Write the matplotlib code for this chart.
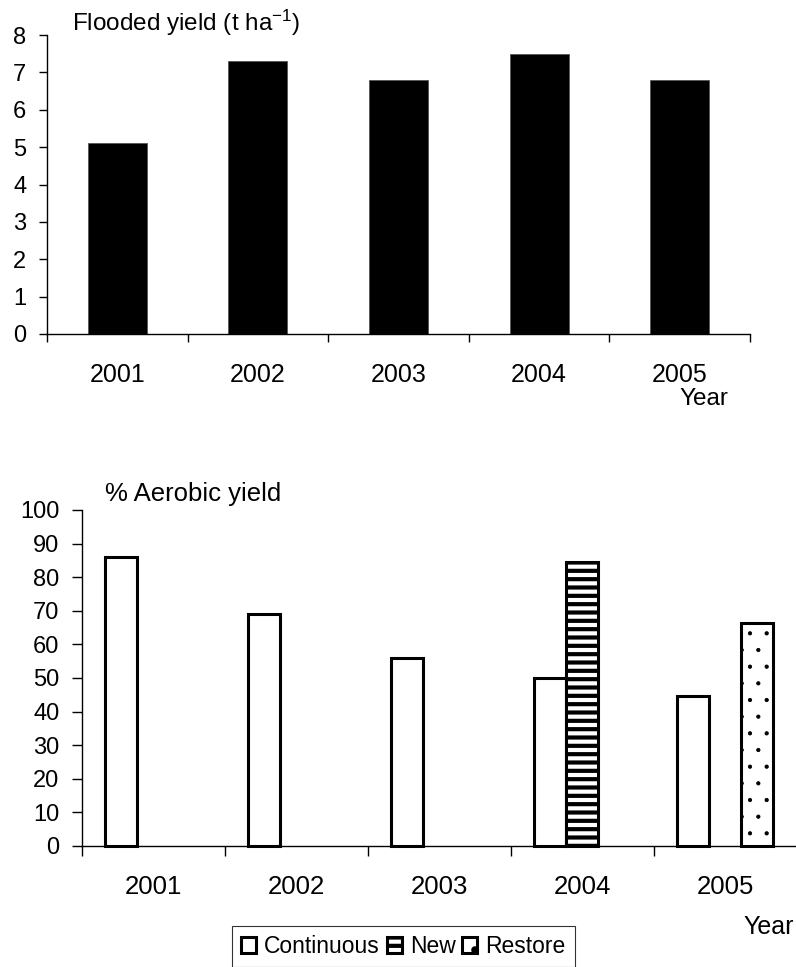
"""
Flooded yield and % aerobic yield, 2001-2005.

Output:
    out.png
"""

import matplotlib
matplotlib.use("Agg")
import matplotlib.pyplot as plt
import numpy as np

plt.rcParams["font.family"] = ["Liberation Sans", "DejaVu Sans"]
plt.rcParams["mathtext.fontset"] = "custom"
plt.rcParams["mathtext.rm"] = "Liberation Sans"
plt.rcParams["mathtext.it"] = "Liberation Sans:italic"
plt.rcParams["hatch.linewidth"] = 3.0

years = ["2001", "2002", "2003", "2004", "2005"]
flooded_yield = [5.1, 7.3, 6.8, 7.5, 6.8]

# % aerobic yield per system (None = not measured)
continuous = [86, 69, 56, 50, 44.5]
new = [None, None, None, 84.5, None]
restore = [None, None, None, None, 66.5]

W, H = 796, 967
fig = plt.figure(figsize=(W / 100, H / 100), dpi=100)


def style_axis(ax, xtick_len, ytick_len):
    n = len(years)
    ax.spines["top"].set_visible(False)
    ax.spines["right"].set_visible(False)
    ax.spines["left"].set_linewidth(1.0)
    ax.spines["bottom"].set_linewidth(1.0)
    ax.set_xlim(-0.5, n - 0.5)
    # separators between categories, labels in the middle
    ax.set_xticks(np.arange(n + 1) - 0.5)
    ax.set_xticklabels([])
    ax.set_xticks(np.arange(n), minor=True)
    ax.set_xticklabels(years, minor=True)
    ax.tick_params(axis="x", which="major", direction="out", length=xtick_len, width=1)
    ax.tick_params(axis="x", which="minor", length=0, pad=21, labelsize=18)
    ax.tick_params(axis="y", direction="out", length=ytick_len, width=1, pad=9, labelsize=17)


# --- flooded yield ---
ax1 = fig.add_axes([47 / W, 1 - 334 / H, 703 / W, 299 / H])
x = np.arange(len(years))
ax1.bar(x, flooded_yield, width=0.42, color="black", edgecolor="#555555", linewidth=0.6)
ax1.set_ylim(0, 8)
ax1.set_yticks(range(0, 9))
style_axis(ax1, xtick_len=5.8, ytick_len=5.8)
fig.text(72 / W, 1 - 23 / H, "Flooded yield (t ha$^{-1}$)", fontsize=17.5, va="center", ha="left")
fig.text(728 / W, 1 - 399 / H, "Year", fontsize=17.5, va="center", ha="right")

# --- % aerobic yield ---
ax2 = fig.add_axes([81.7 / W, 1 - 846 / H, 715 / W, 336 / H])
bw = 0.224
series = [
    ("Continuous", continuous, -bw, "", 3.0),
    ("New", new, 0.0, "--", 3.0),
    ("Restore", restore, bw, ".", 0.6),
]
handles = []
for name, vals, off, hatch, hlw in series:
    xs = [i + off for i, v in enumerate(vals) if v is not None]
    ys = [v for v in vals if v is not None]
    with plt.rc_context({"hatch.linewidth": hlw}):
        bars = ax2.bar(xs, ys, width=bw, facecolor="white", edgecolor="black",
                       linewidth=2.2, hatch=hatch, label=name)
        for b in bars:
            if hasattr(b, "set_hatch_linewidth"):
                b.set_hatch_linewidth(hlw)
    handles.append(bars)
ax2.set_ylim(0, 100)
ax2.set_yticks(range(0, 101, 10))
style_axis(ax2, xtick_len=7, ytick_len=7)
ax2.tick_params(axis="x", which="minor", labelsize=18.5)
for b in ax2.patches:
    b.set_clip_on(False)

fig.text(105 / W, 1 - 494 / H, "% Aerobic yield", fontsize=18.5, va="center", ha="left")
fig.text(743 / W, 1 - 927 / H, "Year", fontsize=18, va="center", ha="left")

leg = fig.legend(handles=handles, labels=["Continuous", "New", "Restore"],
                 loc="upper left", bbox_to_anchor=(232 / W, 1 - 926 / H),
                 ncol=3, fontsize=16.5, frameon=True, fancybox=False,
                 handlelength=0.65, handleheight=0.65, handletextpad=0.35,
                 columnspacing=0.3, borderpad=0.4, borderaxespad=0)
leg.get_frame().set_edgecolor("black")
leg.get_frame().set_linewidth(0.8)

fig.savefig("out.png", dpi=100)
